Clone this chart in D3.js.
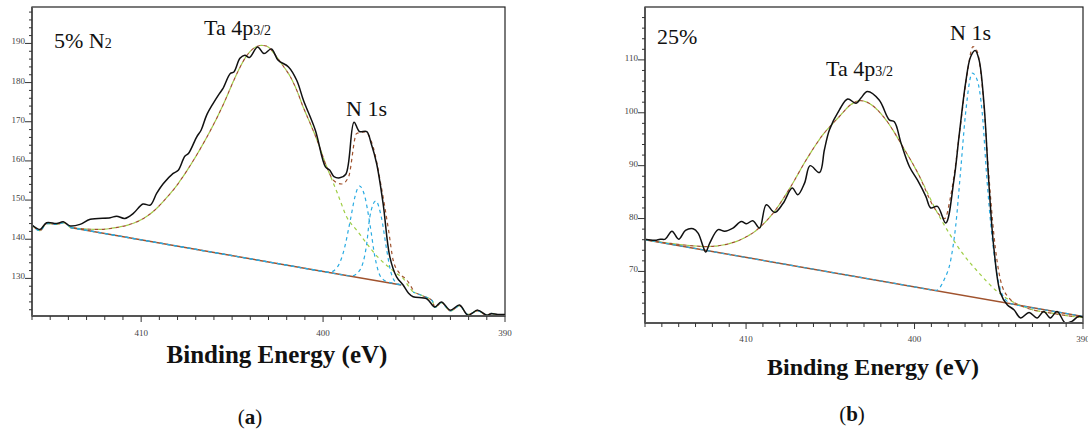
<!DOCTYPE html>
<html>
<head>
<meta charset="utf-8">
<script src="https://cdn.jsdelivr.net/npm/d3@7"></script>
<style>
  body { margin: 0; background: #fff; }
  svg { display: block; }
  .tick-label { font-family: "Liberation Serif", serif; font-size: 9px; fill: #444; }
  .note { font-family: "Liberation Serif", serif; fill: #111; }
  .title { font-family: "Liberation Serif", serif; font-weight: bold; fill: #111; }
</style>
</head>
<body>
<svg id="chart" width="1088" height="430"></svg>
<script>
// ---- data (binding energy eV, counts) ----
// panel (a) 5% N2
const expA = [[416.0,143.6],[415.56,142.5],[415.2,144.2],[414.64,144.0],[414.28,144.45],[413.9,143.4],[413.36,143.8],[412.8,145.1],[411.7,145.5],[411.35,145.9],[410.9,145.3],[410.43,146.6],[409.9,149.0],[409.5,148.7],[409.15,151.7],[408.8,154.1],[408.24,156.8],[407.96,157.6],[407.6,161.2],[407.4,161.9],[406.95,166.1],[406.7,167.9],[406.4,171.7],[406.04,174.7],[405.7,177.2],[405.5,178.5],[405.1,182.3],[404.9,182.7],[404.57,186.2],[404.3,187.0],[404.05,186.4],[403.6,189.1],[403.25,187.4],[402.84,188.6],[402.47,185.7],[401.9,184.0],[401.45,180.6],[401.08,175.5],[400.43,167.9],[399.87,158.5],[399.63,157.6],[399.4,156.0],[399.08,155.7],[398.75,156.6],[398.3,169.9],[398.0,167.5],[397.6,167.5],[397.36,164.5],[397.06,159.4],[396.7,149.1],[396.33,135.5],[395.96,130.4],[395.6,128.3],[395.3,126.2],[395.05,125.3],[394.3,124.8],[393.86,122.7],[393.5,124.0],[393.0,121.9],[392.5,123.2],[392.03,120.6],[391.5,121.9],[391.0,120.6],[390.74,121.0],[390.4,120.8],[390.0,120.8]];
const taA = [[413.9,143.0],[413.0,142.6],[412.2,142.5],[411.5,142.9],[410.74,143.6],[410.0,145.0],[409.26,147.4],[408.6,150.6],[408.1,153.4],[407.5,157.4],[407.0,161.1],[406.4,166.0],[405.9,170.4],[405.4,175.3],[404.98,179.8],[404.6,183.6],[404.24,186.6],[403.7,189.1],[403.4,189.5],[403.1,189.3],[402.56,186.6],[402.2,184.3],[401.8,181.5],[401.4,177.5],[401.1,173.8],[400.7,169.5],[400.33,165.3],[399.8,158.5],[399.6,156.2],[399.2,151.6],[398.7,145.7],[398.1,142.0],[397.6,138.9],[397.0,135.5],[396.5,133.3],[396.0,131.4],[395.6,130.0],[395.3,128.0],[395.05,126.5]];
const envA = [[413.9,143.0],[413.0,142.6],[412.2,142.5],[411.5,142.9],[410.74,143.6],[410.0,145.0],[409.26,147.4],[408.6,150.6],[408.1,153.4],[407.5,157.4],[407.0,161.1],[406.4,166.0],[405.9,170.4],[405.4,175.3],[404.98,179.8],[404.6,183.6],[404.24,186.6],[403.7,189.1],[403.4,189.5],[403.1,189.3],[402.56,186.6],[402.2,184.3],[401.8,181.5],[401.4,177.5],[401.1,173.8],[400.7,169.5],[400.33,165.3],[399.8,158.5],[399.44,155.1],[398.98,154.1],[398.6,155.9],[398.16,167.0],[397.7,167.4],[397.25,163.6],[396.8,153.4],[396.4,142.3],[396.15,134.7],[395.8,131.3],[395.4,129.6],[395.05,127.0]];
const n1A = [[413.9,143.0],[408.0,138.23],[402.0,133.39],[400.3,132.02],[399.63,131.6],[399.26,132.6],[398.9,136.4],[398.5,144.9],[398.25,150.8],[398.0,153.6],[397.7,150.8],[397.43,144.0],[397.15,135.5],[396.88,130.8],[396.6,129.4],[396.2,128.8],[395.7,128.3]];
const n2A = [[413.9,143.0],[408.0,138.23],[402.0,133.39],[400.0,131.77],[399.0,130.96],[398.43,130.6],[397.98,132.1],[397.6,138.9],[397.43,145.7],[397.1,149.8],[396.8,145.7],[396.5,137.2],[396.3,132.1],[396.05,129.2],[395.7,128.3]];
const bgA = [[413.9,143.0],[395.7,128.3]];
const leftTailA = [[416.0,143.6],[415.56,142.2],[415.2,144.0],[414.64,143.8],[414.28,144.2],[413.9,143.0]];
const rightTailA = [[395.05,126.5],[394.5,125.5],[394.0,124.3],[393.85,122.6],[393.5,123.8],[393.0,121.7],[392.5,123.0],[392.05,120.8],[391.5,121.7],[391.0,120.6],[390.75,121.1],[390.4,120.6],[390.0,120.6]];

// panel (b) 25%
const expB = [[416.0,76.1],[415.4,75.9],[415.1,76.1],[414.8,76.1],[414.4,77.6],[414.0,76.1],[413.6,77.75],[413.14,78.07],[412.85,77.25],[412.55,74.7],[412.4,73.66],[412.15,75.4],[411.66,77.9],[411.27,77.6],[410.78,78.2],[410.28,79.45],[409.98,79.0],[409.6,79.6],[409.2,78.2],[408.8,82.6],[408.3,81.15],[407.8,82.9],[407.26,85.76],[406.93,84.5],[406.53,86.7],[406.2,90.0],[405.64,88.7],[405.35,93.0],[405.05,96.8],[404.46,100.55],[403.97,102.6],[403.47,101.8],[403.18,102.8],[402.8,104.0],[402.1,102.4],[401.5,98.66],[401.2,98.3],[400.8,94.26],[400.3,89.8],[399.83,87.3],[399.33,84.2],[399.04,82.0],[398.64,82.3],[398.15,79.14],[397.66,87.3],[397.36,95.5],[396.97,105.6],[396.67,110.6],[396.4,111.76],[396.17,110.0],[395.88,101.8],[395.6,87.3],[395.3,74.7],[394.9,65.9],[394.5,63.7],[394.1,62.76],[393.7,61.2],[393.2,62.25],[392.73,61.2],[392.33,62.44],[391.94,61.2],[391.54,62.44],[391.05,60.25],[390.66,60.56],[390.26,61.5],[390.0,61.3]];
const taB = [[416.0,76.0],[414.5,75.3],[413.14,74.85],[412.35,74.7],[411.37,75.0],[410.4,75.9],[409.4,77.75],[408.4,81.0],[407.4,85.76],[406.43,91.1],[405.45,95.8],[404.46,99.3],[403.8,101.5],[403.2,102.3],[402.7,101.8],[401.7,98.66],[400.7,93.6],[399.7,87.95],[398.74,81.66],[397.95,77.25],[397.17,73.5],[396.17,69.7],[395.2,66.5],[394.2,64.3],[393.0,62.76],[391.84,62.1],[390.66,61.5],[390.0,61.3]];
const envB = [[416.0,76.0],[414.5,75.3],[413.14,74.85],[412.35,74.7],[411.37,75.0],[410.4,75.9],[409.4,77.75],[408.4,81.0],[407.4,85.76],[406.43,91.1],[405.45,95.8],[404.46,99.3],[403.8,101.5],[403.2,102.3],[402.7,101.8],[401.7,98.66],[400.7,93.6],[399.7,87.95],[398.9,82.4],[398.5,80.6],[398.2,80.0],[397.9,83.5],[397.66,88.0],[397.26,98.0],[396.87,107.5],[396.53,112.5],[396.28,111.6],[395.98,105.0],[395.6,88.6],[395.3,77.25],[394.9,68.4],[394.4,65.0],[393.6,63.4],[393.0,62.76],[391.84,62.1],[390.66,61.5],[390.0,61.3]];
const n1B = [[416.0,76.0],[410.0,72.65],[404.0,69.31],[400.5,67.36],[399.4,66.74],[398.74,66.4],[398.25,68.4],[397.85,72.2],[397.56,78.5],[397.26,89.2],[396.97,99.9],[396.57,107.5],[396.28,106.2],[395.98,99.9],[395.7,87.3],[395.4,76.6],[395.0,67.8],[394.6,64.65],[394.2,63.85],[393.5,63.4],[392.0,62.6],[390.0,61.5]];
const bgB = [[416.0,76.0],[390.0,61.5]];

// axis settings
const energyDomain = [416, 390];
const yDomainA = [120.4, 199.3];
const yDomainB = [60.25, 120];
const xMajor = [410, 400, 390];
const yMajorA = [130, 140, 150, 160, 170, 180, 190];
const yMajorB = [70, 80, 90, 100, 110];

const colors = { exp: '#111', ta: '#9fce45', env: '#a0522d', n: '#29abe2', bg: '#a0522d' };

const $svg = d3.select('#chart');

function createChart(opt) {
  const { left, right, top, bottom } = opt;
  const x = d3.scaleLinear().domain(energyDomain).range([left, right]);
  const y = d3.scaleLinear().domain(opt.yDomain).range([bottom, top]);
  const $g = $svg.append('g');

  $g.append('clipPath').attr('id', 'clip-' + opt.id)
    .append('rect').attr('x', left).attr('y', top)
    .attr('width', right - left).attr('height', bottom - top);

  const $vis = $g.append('g').attr('clip-path', `url(#clip-${opt.id})`);
  const line = d3.line().x(d => x(d[0])).y(d => y(d[1])).curve(d3.curveMonotoneX);
  const lineExp = d3.line().x(d => x(d[0])).y(d => y(d[1])).curve(d3.curveCatmullRom.alpha(0.5));

  // dashed fit curves; offset lets overlapping green/brown dashes alternate
  function dashed(data, color, offset) {
    $vis.append('path').datum(data)
      .attr('d', line).attr('fill', 'none')
      .attr('stroke', color).attr('stroke-width', 1.2)
      .attr('stroke-dasharray', '3.5,3.5')
      .attr('stroke-dashoffset', offset || 0);
  }

  // background line
  $vis.append('path').datum(opt.bg).attr('d', line)
    .attr('fill', 'none').attr('stroke', colors.bg).attr('stroke-width', 1.5);

  opt.tails.forEach(t => { dashed(t, colors.ta); dashed(t, colors.env, 3.5); dashed(t, colors.n, 1.5); });
  dashed(opt.ta, colors.ta);
  dashed(opt.env, colors.env, 3.5);
  opt.n.forEach(n => dashed(n, colors.n));

  // measured spectrum
  $vis.append('path').datum(opt.exp).attr('d', lineExp)
    .attr('fill', 'none').attr('stroke', colors.exp).attr('stroke-width', 1.5);

  // frame
  $g.append('rect').attr('x', left).attr('y', top)
    .attr('width', right - left).attr('height', bottom - top)
    .attr('fill', 'none').attr('stroke', '#222').attr('stroke-width', 1.2);
  $g.append('line').attr('x1', left).attr('x2', left).attr('y1', top).attr('y2', bottom)
    .attr('stroke', '#555').attr('stroke-width', 2);
  $g.append('line').attr('x1', left).attr('x2', right).attr('y1', bottom).attr('y2', bottom)
    .attr('stroke', '#555').attr('stroke-width', 2);

  // x ticks, 1 eV apart
  const xMinor = d3.range(390, 417, 1);
  $g.selectAll('.xt').data(xMinor).enter().append('line')
    .attr('x1', d => x(d)).attr('x2', d => x(d))
    .attr('y1', bottom).attr('y2', d => bottom + (xMajor.includes(d) ? 6 : 4))
    .attr('stroke', '#333').attr('stroke-width', 1);
  $g.selectAll('.xl').data(xMajor).enter().append('text')
    .attr('class', 'tick-label').attr('x', d => x(d)).attr('y', bottom + opt.xLabelDy)
    .attr('text-anchor', 'middle').text(d => d);

  // y ticks, 2 units apart
  const yMinor = d3.range(Math.ceil(opt.yDomain[0] / 2) * 2, opt.yDomain[1], 2);
  $g.selectAll('.yt').data(yMinor).enter().append('line')
    .attr('x1', left).attr('x2', d => left - (opt.yMajor.includes(d) ? 7 : 3))
    .attr('y1', d => y(d)).attr('y2', d => y(d))
    .attr('stroke', '#333').attr('stroke-width', 1);
  $g.selectAll('.yl').data(opt.yMajor).enter().append('text')
    .attr('class', 'tick-label').attr('x', left - 7).attr('y', d => y(d) + 1)
    .attr('text-anchor', 'end').text(d => d);

  // axis title + panel letter
  $g.append('text').attr('class', 'title')
    .attr('x', opt.titleX).attr('y', opt.titleY)
    .attr('text-anchor', 'middle').style('font-size', opt.titleSize + 'px')
    .text('Binding Energy (eV)');
  const $p = $g.append('text').attr('class', 'note')
    .attr('x', opt.letterX).attr('y', opt.letterY)
    .attr('text-anchor', 'middle').style('font-size', '21px');
  $p.append('tspan').text('(');
  $p.append('tspan').style('font-weight', 'bold').text(opt.letter);
  $p.append('tspan').text(')');

  // peak labels
  opt.notes.forEach(n => {
    const $t = $g.append('text').attr('class', 'note')
      .attr('x', n.x).attr('y', n.y).style('font-size', '22px');
    $t.append('tspan').text(n.main);
    if (n.sub) $t.append('tspan').style('font-size', '14px').text(n.sub);
  });
}

createChart({
  id: 'a', left: 32, right: 505, top: 7, bottom: 316,
  yDomain: yDomainA, yMajor: yMajorA, xLabelDy: 20,
  exp: expA, ta: taA, env: envA, n: [n1A, n2A], bg: bgA, tails: [leftTailA, rightTailA],
  titleX: 277, titleY: 363, titleSize: 25,
  letter: 'a', letterX: 250, letterY: 424,
  notes: [
    { x: 54, y: 48, main: '5% N', sub: '2' },
    { x: 204, y: 35, main: 'Ta 4p', sub: '3/2' },
    { x: 346, y: 116, main: 'N 1s' }
  ]
});

createChart({
  id: 'b', left: 645, right: 1083, top: 7, bottom: 323,
  yDomain: yDomainB, yMajor: yMajorB, xLabelDy: 19,
  exp: expB, ta: taB, env: envB, n: [n1B], bg: bgB, tails: [],
  titleX: 873, titleY: 375, titleSize: 24,
  letter: 'b', letterX: 852, letterY: 421,
  notes: [
    { x: 657, y: 44, main: '25%' },
    { x: 950, y: 40, main: 'N 1s' },
    { x: 826, y: 76, main: 'Ta 4p', sub: '3/2' }
  ]
});
</script>
</body>
</html>
